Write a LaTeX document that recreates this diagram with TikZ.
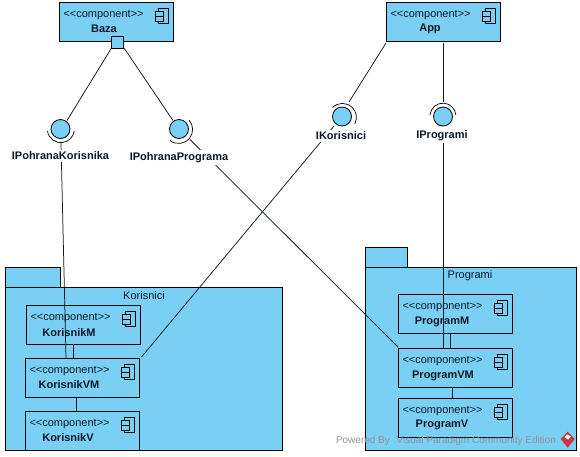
\documentclass[tikz,border=0pt]{standalone}
\usepackage{fontspec}
\setmainfont{Liberation Sans}
\definecolor{umlblue}{RGB}{122,207,245}
\definecolor{inkc}{RGB}{12,24,36}
\definecolor{wmred}{RGB}{205,55,55}
\tikzset{
  x=1pt,y=-1pt,
  every node/.style={inner sep=0pt,outer sep=0pt,text=inkc},
  boxed/.style={draw=black,line width=0.8pt,fill=umlblue},
  wire/.style={draw=inkc,line width=0.75pt},
  socket/.style={draw=black,line width=0.7pt},
  ball/.style={circle,draw=black,line width=0.8pt,fill=umlblue,minimum size=19pt},
  stereo/.style={font=\fontsize{11}{12}\selectfont,anchor=west},
  titletext/.style={font=\fontsize{11}{12}\selectfont\bfseries},
  pkgtext/.style={font=\fontsize{11}{12}\selectfont},
  iface/.style={font=\fontsize{11}{12}\selectfont\bfseries,fill=white,inner xsep=1pt,inner ysep=2pt},
}
% name, left, top, title, title cx, title cy
\newcommand{\umlcomp}[6]{%
  \node[boxed,anchor=north west,minimum width=114pt,minimum height=38.5pt] (#1) at (#2,#3) {};
  \node[stereo] (#1s) at ([xshift=4pt,yshift=-12.5pt]#1.north west) {<{}<component>{}>};
  \node[titletext] (#1t) at (#5,#6) {#4};
  \draw[black,line width=0.75pt] ([xshift=-15pt,yshift=-5.5pt]#1.north east) rectangle ([xshift=-5pt,yshift=-21pt]#1.north east);
  \draw[black,line width=0.75pt,fill=umlblue] ([xshift=-18.5pt,yshift=-8.5pt]#1.north east) rectangle ([xshift=-10.5pt,yshift=-13.5pt]#1.north east);
  \draw[black,line width=0.75pt,fill=umlblue] ([xshift=-18.5pt,yshift=-14pt]#1.north east) rectangle ([xshift=-10.5pt,yshift=-19pt]#1.north east);
}
\begin{document}
\begin{tikzpicture}
\useasboundingbox[fill=white] (0,0) rectangle (580,456);
% packages
\draw[boxed] (5.5,267.5) rectangle (60.5,287.5);
\node[boxed,anchor=north west,minimum width=276.5pt,minimum height=162.5pt] (korisnici) at (5.5,287.5) {};
\node[pkgtext] (korisnicit) at (144,296) {Korisnici};
\draw[boxed] (365.5,247.5) rectangle (407,267.5);
\node[boxed,anchor=north west,minimum width=210.5pt,minimum height=182.5pt] (programi) at (365.5,267.5) {};
\node[pkgtext] (programit) at (470,276) {Programi};
% components
\umlcomp{baza}{59.5}{2.5}{Baza}{104}{29}
\umlcomp{app}{386.5}{2.5}{App}{430}{29}
\umlcomp{km}{26.5}{305.5}{KorisnikM}{69}{333}
\umlcomp{kvm}{25.5}{358.5}{KorisnikVM}{69}{385}
\umlcomp{kv}{25.5}{411.5}{KorisnikV}{68}{438}
\umlcomp{pm}{398.5}{294.5}{ProgramM}{442}{322}
\umlcomp{pvm}{398.5}{348.5}{ProgramVM}{443}{376}
\umlcomp{pv}{398.5}{398.5}{ProgramV}{442}{425}
% port
\node[boxed,minimum size=12pt,anchor=center] (port) at (117,42) {};
% balls
\node[ball] (b1) at (60.5,129) {};
\node[ball] (b2) at (179,129) {};
\node[ball] (b3) at (342,116.5) {};
\node[ball] (b4) at (443,116.5) {};
% sockets
\draw[socket] (47.5,131) arc[start angle=188,end angle=352,x radius=13.5,y radius=-13.5];
\draw[socket] (170,140.5) arc[start angle=232,end angle=402,x radius=14,y radius=-14];
\draw[socket] (332.5,107.5) arc[start angle=135,end angle=-28,x radius=14,y radius=-14] ;
\draw[socket] (430,115) arc[start angle=175,end angle=5,x radius=13,y radius=-13];
% anchor points of the connectors
\coordinate (p1) at (111.5,48);
\coordinate (p2) at (124,48);
\coordinate (e1) at (67,120.5);
\coordinate (e2) at (173,120.5);
\coordinate (s1) at (61,143);
\coordinate (s2) at (190,139.5);
\coordinate (s3) at (334,126);
\coordinate (a3) at (386,43);
\coordinate (t3) at (349,102);
\coordinate (a4) at (443,43);
\coordinate (t4) at (443,102);
\coordinate (s4) at (443,130);
\coordinate (kvmr) at (141.5,357);
\coordinate (kvmt) at (66,358);
\coordinate (pvml) at (398,347);
\coordinate (pvmt) at (443,348);
% connectors
\draw[wire] (p1) -- (e1);
\draw[wire] (p2) -- (e2);
\draw[wire] (a3) -- (t3);
\draw[wire] (a4) -- (t4);
\draw[wire] (s1) -- (kvmt);
\draw[wire] (s2) -- (pvml);
\draw[wire] (s3) -- (kvmr);
\draw[wire] (s4) -- (pvmt);
\draw[wire] (73,344) -- (73,358);
\draw[wire] (76,397) -- (76,411);
\draw[wire] (450,333) -- (450,348);
\draw[wire] (452,387) -- (452,398);
% interface labels
\node[iface] (l1) at (60.5,156) {IPohranaKorisnika};
\node[iface] (l2) at (179,157.5) {IPohranaPrograma};
\node[iface] (l3) at (341,136) {IKorisnici};
\node[iface] (l4) at (442,136) {IProgrami};
% watermark
\node[anchor=west,text=gray!85,font=\fontsize{10}{11}\selectfont] (wm) at (336,441) {Powered By\hspace{4pt} Visual Paradigm Community Edition};
\fill[wmred] (567.7,431.7) -- (574.7,439) -- (567.7,447.7) -- (560.7,439) -- cycle;
\fill[white] (567,434.5) -- (571,436.5) -- (568,439.5) -- (564.5,437) -- cycle;
\end{tikzpicture}
\end{document}
